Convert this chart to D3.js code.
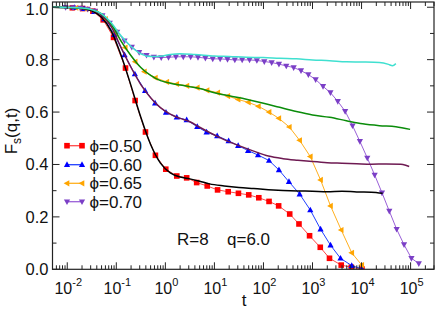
<!DOCTYPE html>
<html><head><meta charset="utf-8">
<script src="https://cdn.jsdelivr.net/npm/d3@7"></script>
<style>body{margin:0;background:#fff}svg{display:block}text{font-family:"Liberation Sans",Arial,sans-serif}</style>
</head><body><div id="c"></div>
<script>
// ---- data ----
const legendLabels = ["ϕ=0.50","ϕ=0.60","ϕ=0.65","ϕ=0.70"];
const yTicks = [0.0,0.2,0.4,0.6,0.8,1.0];
const xTickExps = [-2,-1,0,1,2,3,4,5];

const t050 = [0.0127,0.0206,0.0333,0.0541,0.0877,0.154,0.242,0.393,0.627,1.02,1.71,2.72,4.35,7.14,11.6,19.1,30.9,50.1,80.4,130,204,343,530,871,1440,2220,3850,6170,10200];
const f050 = [0.998,0.995,0.985,0.952,0.885,0.768,0.644,0.524,0.435,0.382,0.356,0.349,0.331,0.318,0.303,0.296,0.290,0.284,0.273,0.259,0.242,0.211,0.173,0.128,0.084,0.042,0.016,0.008,0.001];

const t060 = [0.0139,0.0222,0.0356,0.0571,0.0916,0.147,0.239,0.386,0.618,1.03,1.71,2.72,4.47,6.93,11.4,19.5,30.5,48.6,77.6,130,207,331,547,902,1460,2330,3720,6310,10100];
const f060 = [0.998,0.994,0.983,0.955,0.895,0.818,0.745,0.682,0.634,0.599,0.580,0.570,0.544,0.523,0.509,0.490,0.472,0.453,0.436,0.415,0.379,0.334,0.287,0.226,0.153,0.092,0.042,0.014,0.002];

const t065 = [0.0151,0.024,0.038,0.0603,0.0955,0.152,0.242,0.374,0.627,1.07,1.71,2.75,4.47,7.08,11.7,18.8,30.5,49.3,78.9,130,206,337,547,902,1460,2330,3850,6310,10100];
const f065 = [0.998,0.993,0.982,0.955,0.905,0.846,0.792,0.754,0.731,0.715,0.707,0.700,0.693,0.683,0.674,0.661,0.648,0.637,0.622,0.600,0.576,0.543,0.492,0.430,0.341,0.242,0.150,0.063,0.016];

const t070 = [0.00925,0.0131,0.0185,0.0261,0.0368,0.052,0.0735,0.104,0.147,0.207,0.292,0.413,0.583,0.824,1.16,1.64,2.32,3.28,4.63,6.55,9.25,13.1,18.5,26.1,36.8,52,73.5,104,147,207,292,413,583,824,1160,1640,2320,3280,4630,6550,9250,13100,18500,26100,36800,52000,73500,104000,147000];
const f070 = [1.0,0.999,0.997,0.993,0.985,0.968,0.940,0.905,0.872,0.848,0.828,0.817,0.810,0.808,0.809,0.811,0.811,0.811,0.809,0.806,0.803,0.803,0.801,0.799,0.799,0.799,0.797,0.793,0.789,0.783,0.776,0.770,0.758,0.743,0.724,0.698,0.674,0.641,0.603,0.548,0.488,0.425,0.360,0.292,0.222,0.153,0.094,0.042,0.022];

const tFitA = [0.005,0.01,0.02,0.0316,0.0501,0.0794,0.126,0.2,0.316,0.501,0.794,1.26,2.0,3.16,5.01,7.94,15.8,31.6,63.1,126,251,501,1000,2000,3980,7940,15800,26900];
const fFitA = [1.0,0.999,0.995,0.986,0.962,0.908,0.815,0.700,0.580,0.476,0.405,0.368,0.352,0.345,0.336,0.326,0.318,0.312,0.308,0.304,0.301,0.299,0.298,0.296,0.298,0.295,0.294,0.290];

const tFitB = [0.005,0.01,0.02,0.0316,0.0501,0.0794,0.126,0.2,0.316,0.501,0.794,1.26,2.0,3.16,5.01,7.94,15.8,31.6,63.1,126,251,501,1000,2000,3980,7940,15800,31600,63100,79400,93300];
const fFitB = [1.0,0.999,0.996,0.990,0.970,0.925,0.845,0.770,0.705,0.655,0.617,0.592,0.576,0.563,0.542,0.522,0.495,0.472,0.451,0.432,0.422,0.416,0.411,0.407,0.405,0.403,0.401,0.402,0.401,0.397,0.392];

const tFitC = [0.005,0.01,0.02,0.0316,0.0501,0.0794,0.126,0.2,0.316,0.501,0.794,1.26,2.0,3.16,5.01,10,20,44.7,100,214,468,1000,2240,4900,10500,23100,50100,97700];
const fFitC = [1.0,0.999,0.996,0.990,0.975,0.935,0.870,0.815,0.770,0.740,0.720,0.710,0.703,0.697,0.690,0.674,0.662,0.649,0.634,0.618,0.602,0.589,0.580,0.567,0.555,0.548,0.544,0.534];

const tFitD = [0.005,0.01,0.02,0.0316,0.0501,0.0794,0.126,0.2,0.316,0.501,0.794,1.26,2.0,3.98,10,20,44.7,100,214,468,1000,2240,4900,10000,23100,35500,42700,50100];
const fFitD = [1.0,0.999,0.997,0.991,0.975,0.940,0.890,0.850,0.822,0.812,0.813,0.820,0.823,0.820,0.814,0.812,0.809,0.808,0.805,0.803,0.799,0.796,0.792,0.791,0.789,0.782,0.777,0.785];

// ---- chart ----
const W = 436, H = 310;
const L = 52.5, R = 434, T = 2, B = 269.3;
const svg = d3.select("#c").append("svg").attr("width", W).attr("height", H);
const x = d3.scaleLog().domain([0.005, 3e5]).range([L, R]);
const y = d3.scaleLinear().domain([0, 1.02]).range([B, T]);

const zip = (ts, fs) => ts.map((t, i) => [t, fs[i]]);
const line = d3.line().x(d => x(d[0])).y(d => y(d[1]));
const smooth = d3.line().x(d => x(d[0])).y(d => y(d[1])).curve(d3.curveMonotoneX);

const plot = svg.append("g");
plot.append("clipPath").attr("id", "clip").append("rect").attr("x", L).attr("y", T).attr("width", R - L).attr("height", B - T);
const g = plot.append("g").attr("clip-path", "url(#clip)");

const series = [
  {t: t050, f: f050, color: "#ff0000", line: "#ff4848", shape: "square"},
  {t: t060, f: f060, color: "#0000ff", line: "#2040ff", shape: "up"},
  {t: t065, f: f065, color: "#ffa500", line: "#ffb020", shape: "left"},
  {t: t070, f: f070, color: "#7b3fc6", line: "#9a60d8", shape: "down"}
];
const fits = [
  {t: tFitA, f: fFitA, color: "#000000"},
  {t: tFitB, f: fFitB, color: "#6e1a52"},
  {t: tFitC, f: fFitC, color: "#0a8c0a"},
  {t: tFitD, f: fFitD, color: "#40e0d0"}
];

function marker(sel, shape, color) {
  if (shape === "square") {
    sel.append("rect").attr("x", -2.8).attr("y", -2.8).attr("width", 5.6).attr("height", 5.6).attr("fill", color);
  } else {
    const p = {up: "M0,-3.4L3.1,2.3L-3.1,2.3Z", down: "M0,3.4L3.1,-2.3L-3.1,-2.3Z", left: "M-3.4,0L2.3,-3.1L2.3,3.1Z"}[shape];
    sel.append("path").attr("d", p).attr("fill", color);
  }
}

series.forEach(s => {
  const d = zip(s.t, s.f);
  g.append("path").datum(d).attr("d", line).attr("fill", "none").attr("stroke", s.line).attr("stroke-width", 1);
  g.selectAll(null).data(d).enter().append("g")
    .attr("transform", p => `translate(${x(p[0])},${y(p[1])})`)
    .each(function () { marker(d3.select(this), s.shape, s.color); });
});
fits.forEach(s => {
  g.append("path").datum(zip(s.t, s.f)).attr("d", smooth).attr("fill", "none").attr("stroke", s.color).attr("stroke-width", 1.5);
});

// frame
svg.append("rect").attr("x", L).attr("y", T).attr("width", R - L).attr("height", B - T).attr("fill", "none").attr("stroke", "#222").attr("stroke-width", 1.2);

// ticks
const ax = svg.append("g").attr("stroke", "#222").attr("stroke-width", 1);
const majorX = xTickExps.map(e => Math.pow(10, e));
const minorX = [];
for (let e = -3; e <= 5; e++) for (let k = 2; k <= 9; k++) { const v = k * Math.pow(10, e); if (v >= 0.005 && v <= 3e5) minorX.push(v); }
majorX.forEach(v => {
  ax.append("line").attr("x1", x(v)).attr("x2", x(v)).attr("y1", B).attr("y2", B - 7);
  ax.append("line").attr("x1", x(v)).attr("x2", x(v)).attr("y1", T).attr("y2", T + 7);
});
minorX.forEach(v => {
  ax.append("line").attr("x1", x(v)).attr("x2", x(v)).attr("y1", B).attr("y2", B - 4);
  ax.append("line").attr("x1", x(v)).attr("x2", x(v)).attr("y1", T).attr("y2", T + 4);
});
const minorY = [0.1, 0.3, 0.5, 0.7, 0.9];
yTicks.forEach(v => {
  ax.append("line").attr("x1", L).attr("x2", L + 7).attr("y1", y(v)).attr("y2", y(v));
  ax.append("line").attr("x1", R).attr("x2", R - 7).attr("y1", y(v)).attr("y2", y(v));
});
minorY.forEach(v => {
  ax.append("line").attr("x1", L).attr("x2", L + 4).attr("y1", y(v)).attr("y2", y(v));
  ax.append("line").attr("x1", R).attr("x2", R - 4).attr("y1", y(v)).attr("y2", y(v));
});

// tick labels
yTicks.forEach(v => {
  svg.append("text").attr("x", 48.5).attr("y", Math.max(y(v) + 6, 14.6)).attr("text-anchor", "end")
    .attr("font-size", 16.5).attr("fill", "#111").text(v.toFixed(1));
});
xTickExps.forEach(e => {
  const tx = svg.append("text").attr("x", x(Math.pow(10, e)) + 1).attr("y", 293.5).attr("text-anchor", "middle").attr("fill", "#111");
  tx.append("tspan").attr("font-size", 16).text("10");
  tx.append("tspan").attr("font-size", 11).attr("dy", -8).text(String(e));
});

// axis titles
svg.append("text").attr("x", 244).attr("y", 306).attr("text-anchor", "middle").attr("font-size", 17).attr("fill", "#111").text("t");
const yl = svg.append("text").attr("transform", "translate(17,131) rotate(-90)").attr("text-anchor", "middle").attr("font-size", 17).attr("fill", "#111");
yl.append("tspan").text("F");
yl.append("tspan").attr("font-size", 12).attr("dy", 4).text("s");
yl.append("tspan").attr("dy", -4).text("(q,t)");

// annotation
svg.append("text").attr("x", 177).attr("y", 244.5).attr("font-size", 17).attr("fill", "#111").text("R=8");
svg.append("text").attr("x", 227).attr("y", 244.5).attr("font-size", 17).attr("fill", "#111").text("q=6.0");

// legend
const legY = [145.7, 164.7, 183.3, 201.7];
series.forEach((s, i) => {
  const lg = svg.append("g");
  lg.append("line").attr("x1", 67).attr("x2", 82).attr("y1", legY[i]).attr("y2", legY[i]).attr("stroke", s.line).attr("stroke-width", 1.3);
  [67, 82].forEach(px => { const m = lg.append("g").attr("transform", `translate(${px},${legY[i]})`); marker(m, s.shape, s.color); });
  lg.append("text").attr("x", 89.5).attr("y", legY[i] + 6).attr("font-size", 17).attr("fill", "#111").text(legendLabels[i]);
});
</script></body></html>
